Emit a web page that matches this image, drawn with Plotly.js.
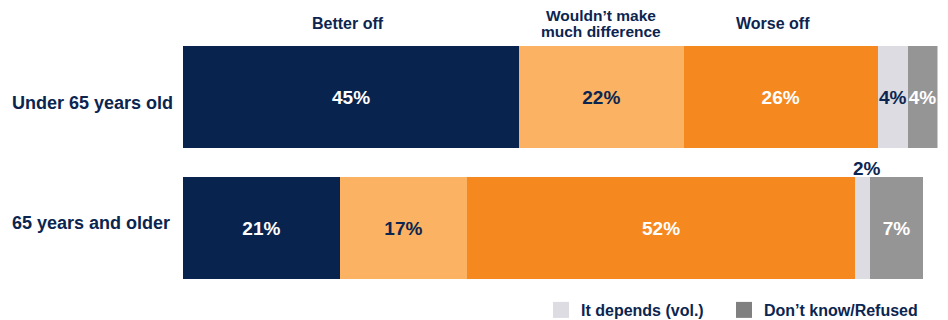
<!DOCTYPE html>
<html>
<head>
<meta charset="utf-8">
<script src="https://cdn.plot.ly/plotly-3.0.1.min.js"></script>
<style>html,body{margin:0;padding:0;background:#fff;}#chart{width:948px;height:320px;}</style>
</head>
<body>
<div id="chart"></div>
<script>
const categories = ['Under 65 years old', '65 years and older'];
const seriesNames = ['Better off', "Wouldn\u2019t make much difference", 'Worse off', 'It depends (vol.)', 'Don\u2019t know/Refused'];
const betterOff = [45, 21];
const noDifference = [22, 17];
const worseOff = [26, 52];
const itDepends = [4, 2];
const dontKnow = [4, 7];
const headerLabels = ['Better off', 'Wouldn\u2019t make<br>much difference', 'Worse off'];

const W = 948, H = 320;
const NAVY = '#0B2550';
const colors = ['#08234E', '#FBB263', '#F5891F', '#DCDCE2', '#959595'];
const legendColors = ['#DCDCE2', '#808080'];
const textColors = ['#FFFFFF', NAVY, '#FFFFFF', NAVY, '#FFFFFF'];
const series = [betterOff, noDifference, worseOff, itDepends, dontKnow];
const FONT = '"Liberation Sans", Arial, sans-serif';

const traces = series.map((vals, i) => ({
  type: 'bar',
  orientation: 'h',
  name: seriesNames[i],
  y: categories,
  x: vals,
  marker: {color: colors[i], line: {width: 0}},
  text: vals.map(v => v + '%'),
  textposition: (i === 3) ? ['inside', 'none'] : 'inside',
  insidetextanchor: 'middle',
  textangle: 0,
  constraintext: 'none',
  insidetextfont: {family: FONT, size: 19, color: textColors[i], weight: 'bold'},
  hoverinfo: 'none',
  showlegend: false
}));

// legend entries (square swatches) for the two grey series
[3, 4].forEach((i, k) => {
  const t = {
    type: 'scatter', mode: 'markers', name: seriesNames[i],
    x: [null], y: [null],
    marker: {symbol: 'square', size: 16, color: legendColors[k], line: {width: 0}},
    hoverinfo: 'none', showlegend: true
  };
  if (k === 0) t.legendwidth = 138;
  traces.push(t);
});

const annotations = [];
let cum = 0;
const headerShift = [-3, 0, -8];
for (let i = 0; i < 3; i++) {
  const v = series[i][0];
  const lines = headerLabels[i].split('<br>');
  const lh = 16.5;
  lines.forEach((ln, j) => {
    const yc = 23.5 + (j - (lines.length - 1) / 2) * lh;
    annotations.push({
      xref: 'x', yref: 'paper', x: cum + v / 2, y: 1 - yc / H, xshift: headerShift[i],
      text: '<b>' + ln + '</b>', showarrow: false,
      xanchor: 'center', yanchor: 'middle', align: 'center',
      font: {family: FONT, size: lines.length > 1 ? 15.5 : 16, color: NAVY}
    });
  });
  cum += v;
}
const catShift = [-6, 5];
categories.forEach((c, k) => {
  annotations.push({
    xref: 'paper', yref: 'y', x: 10 / W, y: c, yshift: catShift[k],
    text: '<b>' + c + '</b>', showarrow: false, xanchor: 'left', yanchor: 'middle',
    font: {family: FONT, size: 18, color: NAVY}
  });
});
const smallX = betterOff[1] + noDifference[1] + worseOff[1] + itDepends[1] / 2;
annotations.push({
  xref: 'x', yref: 'y', x: smallX, y: categories[1], yshift: 60, xshift: 4,
  text: '<b>' + itDepends[1] + '%</b>', showarrow: false, xanchor: 'center', yanchor: 'middle',
  font: {family: FONT, size: 19, color: NAVY}
});

const layout = {
  width: W, height: H,
  margin: {l: 0, r: 0, t: 0, b: 0, pad: 0, autoexpand: false},
  paper_bgcolor: '#fff', plot_bgcolor: 'rgba(0,0,0,0)',
  barmode: 'stack', bargap: 0.22,
  xaxis: {domain: [183 / W, 937.5 / W], range: [0, 101], visible: false, fixedrange: true},
  yaxis: {domain: [26.5 / H, 1 - 31.5 / H], range: [1.5, -0.5], visible: false, type: 'category', fixedrange: true},
  showlegend: true,
  legend: {
    orientation: 'h', x: 923 / W, xanchor: 'right', y: 10 / H, yanchor: 'middle',
    font: {family: FONT, size: 16, color: NAVY, weight: 'bold'},
    bgcolor: 'rgba(0,0,0,0)', traceorder: 'normal', itemclick: false, itemdoubleclick: false
  },
  annotations: annotations,
  font: {family: FONT, color: NAVY}
};

Plotly.newPlot('chart', traces, layout, {displayModeBar: false, staticPlot: true});
</script>
</body>
</html>
